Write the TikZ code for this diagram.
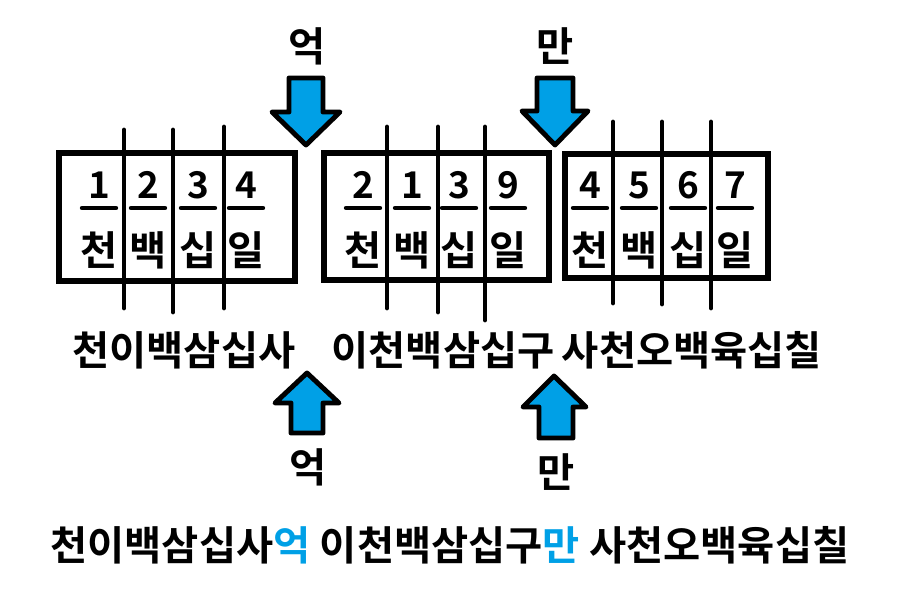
\documentclass[tikz,border=0pt]{standalone}
\usepackage{fontspec}
\setmainfont{Noto Sans CJK KR}[BoldFont={Noto Sans CJK KR Bold}]
\usetikzlibrary{positioning}
\definecolor{arrowblue}{RGB}{0,160,230}

\begin{document}
\begin{tikzpicture}[x=0.02cm, y=-0.02cm,
    hangul/.style={font=\fontsize{23}{26}\selectfont\bfseries, inner sep=0pt},
    digit/.style={font=\fontsize{21}{24}\selectfont\bfseries, inner sep=0pt},
    bigarrow/.style={draw, fill=arrowblue, line width=2.8pt, line join=round},
    frame/.style={line width=3pt},
    divider/.style={line width=2.8pt, line cap=round},
    uline/.style={line width=2.5pt, line cap=round}]
    \useasboundingbox (0,0) rectangle (897,605);

    % 세 칸 상자
    \draw[frame] (59,153) rectangle (295,281);  % 첫째 상자
    \draw[frame] (324,153) rectangle (549,280); % 둘째 상자
    \draw[frame] (565,154) rectangle (768,278); % 셋째 상자

    % 칸 나눔 세로선
    \foreach \x/\top/\bot in {124/130/308, 173/130/312, 224/127/308,
                              387/127/308, 438/127/312, 485/127/320,
                              613/122/303, 662/122/304, 711/122/308}
        \draw[divider] (\x,\top) -- (\x,\bot);

    % 숫자, 밑줄, 자리 이름
    \foreach \c/\d/\u [count=\i] in {99/1/천, 148/2/백, 198/3/십, 246/4/일,
                                     363/2/천, 412/1/백, 459/3/십, 508/9/일,
                                     590/4/천, 639/5/백, 688/6/십, 735/7/일} {
        \node[digit] (num-\i) at (\c,185) {\d};
        \draw[uline] (\c-17,208) -- (\c+17,208);
        \node[hangul] (unit-\i) at (\c,250) {\u};
    }

    % 위쪽 화살표 (아래로)
    \node[hangul] (eok-top) at (307,46) {억};
    \node[hangul] (man-top) at (555,46) {만};
    \draw[bigarrow] (289,78) -- (323,78) -- (323,112) -- (340,112) -- (306,145)
        -- (272,112) -- (289,112) -- cycle;
    \draw[bigarrow] (537,78) -- (573,78) -- (573,111) -- (588,111) -- (555,145)
        -- (522,111) -- (537,111) -- cycle;

    % 가운데 읽기
    \node[hangul] (read-1) at (184,350) {천이백삼십사};
    \node[hangul] (read-2) at (443,350) {이천백삼십구};
    \node[hangul] (read-3) at (692,350) {사천오백육십칠};

    % 아래쪽 화살표 (위로)
    \draw[bigarrow] (307,373) -- (339,403) -- (323,403) -- (323,433) -- (291,433)
        -- (291,403) -- (275,403) -- cycle;
    \draw[bigarrow] (554,376) -- (586,407) -- (573,407) -- (573,438) -- (539,438)
        -- (539,407) -- (523,407) -- cycle;
    \node[hangul] (eok-bot) at (308,467) {억};
    \node[hangul] (man-bot) at (556,472) {만};

    % 전체 읽기
    \node[hangul] (read-all) at (450,545)
        {천이백삼십사\textcolor{arrowblue}{억} 이천백삼십구\textcolor{arrowblue}{만} 사천오백육십칠};
\end{tikzpicture}
\end{document}
